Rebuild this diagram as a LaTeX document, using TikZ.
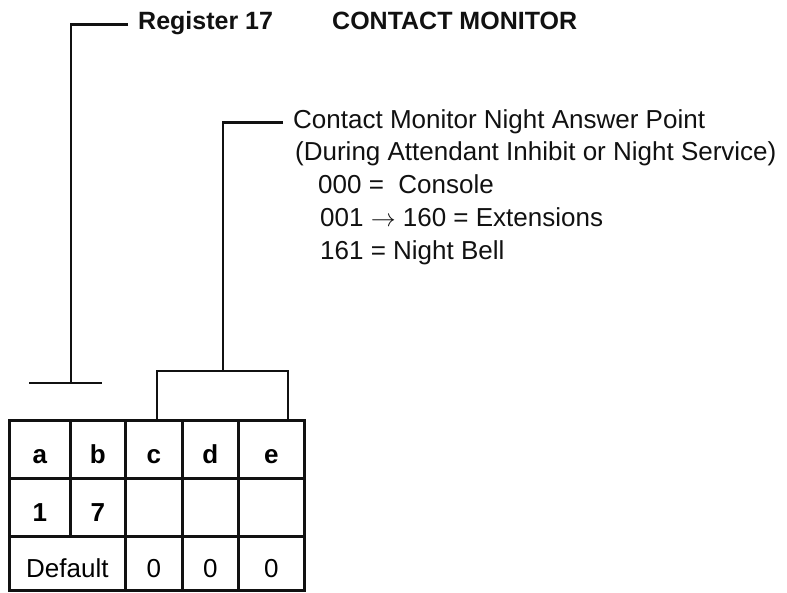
\documentclass[tikz,border=0pt]{standalone}
\usepackage{fontspec}
\setmainfont{Liberation Sans}
\usepackage{tikz}
\usetikzlibrary{positioning}
\definecolor{ink}{HTML}{111111}

\tikzset{
  lead/.style={draw=ink,line width=2.8pt},
  cell/.style={draw=ink,line width=2.8pt,anchor=north west,inner sep=0pt,
    minimum height=58pt,text height=28pt,text depth=0pt},
  txt/.style={anchor=base west,inner sep=0pt,text=ink,font=\fontsize{26}{30}\selectfont},
  hdr/.style={anchor=base west,inner sep=0pt,text=ink,font=\fontsize{25}{28}\selectfont\bfseries}
}

\begin{document}
\begin{tikzpicture}[x=1pt,y=-1pt]
  \useasboundingbox (0,0) rectangle (787,592);
  % register number and title
  \node[hdr] (reg) at (138,29) {Register 17};
  \node[hdr] (title) at (332,29) {CONTACT MONITOR};
  % night answer point text
  \foreach \n/\x/\y/\lab in {
    nap1/293/128/{Contact Monitor Night Answer Point},
    nap2/295/160/{(During Attendant Inhibit or Night Service)},
    opt1/318/193/{000 =\ \ Console},
    opt2/320/226/{001 $\rightarrow$ 160 = Extensions},
    opt3/320/259/{161 = Night Bell}}
  {
    \node[txt] (\n) at (\x,\y) {\lab};
  }
  % table: header, register digits, defaults
  \foreach \c/\x/\w/\lab/\val in {
    a/8/61/a/1, b/69/55/b/7, c/124/57/c/{}, d/181/56/d/{}, e/237/66/e/{}}
  {
    \node[cell,minimum width=\w pt,font=\fontsize{26}{30}\selectfont\bfseries] (h\c) at (\x,419) {\lab};
    \node[cell,minimum width=\w pt,font=\fontsize{26}{30}\selectfont\bfseries] (r\c) at (\x,477) {\val};
  }
  \node[cell,minimum width=116pt,minimum height=54pt,font=\fontsize{26}{30}\selectfont] (dab) at (8,535) {Default};
  \foreach \c/\x/\w in {c/124/57, d/181/56, e/237/66}
    \node[cell,minimum width=\w pt,minimum height=54pt,font=\fontsize{26}{30}\selectfont] (d\c) at (\x,535) {0};
  % brackets
  \coordinate (regT) at (71,383);
  \draw[lead] ([xshift=-10pt,yshift=-2pt]reg.west) -| (regT);
  \draw[lead] ([xshift=-42pt]regT) -- ([xshift=31pt]regT);
  \coordinate (napT) at (223,371);
  \coordinate (boxl) at (157,419);
  \coordinate (boxr) at (288,419);
  \draw[lead] ([xshift=-10pt,yshift=-1pt]nap1.west) -| (napT);
  \draw[lead] (boxl) |- (boxr |- napT) -- (boxr);
\end{tikzpicture}
\end{document}
